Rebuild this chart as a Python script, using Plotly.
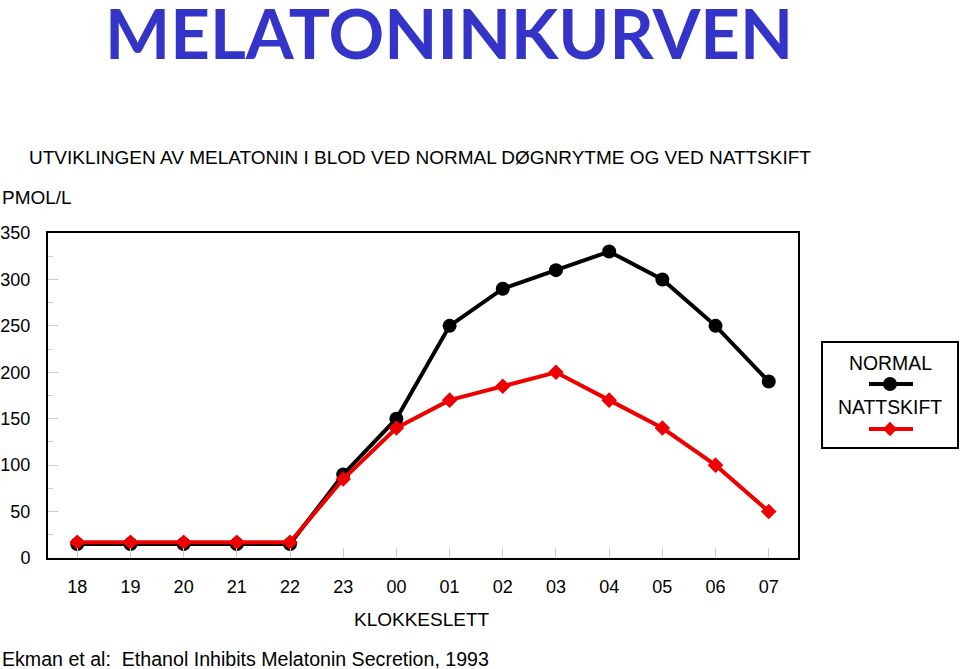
import plotly.graph_objects as go

hours = ["18", "19", "20", "21", "22", "23", "00", "01", "02", "03", "04", "05", "06", "07"]
normal = [15, 15, 15, 15, 15, 90, 150, 250, 290, 310, 330, 300, 250, 190]
nattskift = [17, 17, 17, 17, 17, 85, 140, 170, 185, 200, 170, 140, 100, 50]
y_ticks = [0, 50, 100, 150, 200, 250, 300, 350]

W, H = 960, 669
L, T = 48, 233  # plot area top-left in px
PW, PH = 750, 325  # plot area size in px
paperW = W - L

def px(x):
    return (x - L) / paperW

def py(y):
    return (T + PH - y) / PH

FONT = "Liberation Sans, Arial, sans-serif"

fig = go.Figure()
fig.add_trace(go.Scatter(
    x=hours, y=normal, mode="lines+markers", name="NORMAL",
    line=dict(color="black", width=4),
    marker=dict(symbol="circle", size=14, color="black"),
    showlegend=False,
))
fig.add_trace(go.Scatter(
    x=hours, y=nattskift, mode="lines+markers", name="NATTSKIFT",
    line=dict(color="#ee0000", width=4),
    marker=dict(symbol="diamond", size=12, color="#ee0000"),
    showlegend=False,
))

# custom legend (text above symbol) on an overlay axis
lx0, lx1, ly0, ly1 = 823, 957, 343, 447
lw, lh = lx1 - lx0, ly1 - ly0
def lxc(x):
    return (x - lx0) / lw
def lyc(y):
    return (ly1 - y) / lh

for yy, col, sym, sz in [(384, "black", "circle", 14), (429, "#ee0000", "diamond", 11)]:
    fig.add_trace(go.Scatter(
        x=[lxc(869), lxc(913)], y=[lyc(yy)] * 2, xaxis="x2", yaxis="y2",
        mode="lines", line=dict(color=col, width=4),
        showlegend=False, hoverinfo="skip",
    ))
    fig.add_trace(go.Scatter(
        x=[lxc(890)], y=[lyc(yy)], xaxis="x2", yaxis="y2",
        mode="markers", marker=dict(symbol=sym, size=sz, color=col, line=dict(width=0)),
        showlegend=False, hoverinfo="skip",
    ))

annotations = [
    dict(text="<b>MELATONINKURVEN</b>", x=px(449), y=py(32), xref="paper", yref="paper",
         showarrow=False, xanchor="center", yanchor="middle",
         font=dict(family="Comic Sans MS, Lato, sans-serif", size=69, color="#3434c8")),
    dict(text="UTVIKLINGEN AV MELATONIN I BLOD VED NORMAL DØGNRYTME OG VED NATTSKIFT",
         x=px(27), y=py(157), xref="paper", yref="paper", showarrow=False,
         xanchor="left", yanchor="middle", font=dict(family=FONT, size=19, color="black")),
    dict(text="PMOL/L", x=px(0), y=py(198), xref="paper", yref="paper", showarrow=False,
         xanchor="left", yanchor="middle", font=dict(family=FONT, size=19, color="black")),
    dict(text="KLOKKESLETT", x=px(422), y=py(619), xref="paper", yref="paper", showarrow=False,
         xanchor="center", yanchor="middle", font=dict(family=FONT, size=19, color="black")),
    dict(text="Ekman et al:  Ethanol Inhibits Melatonin Secretion, 1993", x=px(0), y=py(659),
         xref="paper", yref="paper", showarrow=False, xanchor="left", yanchor="middle",
         font=dict(family=FONT, size=19.6, color="black")),
    dict(text="NORMAL", x=lxc(890), y=lyc(363), xref="x2", yref="y2", showarrow=False,
         xanchor="center", yanchor="middle", font=dict(family=FONT, size=19.4, color="black")),
    dict(text="NATTSKIFT", x=lxc(890), y=lyc(407), xref="x2", yref="y2", showarrow=False,
         xanchor="center", yanchor="middle", font=dict(family=FONT, size=19.4, color="black")),
]

fig.update_layout(
    width=W, height=H,
    margin=dict(l=L, r=0, t=T, b=H - T - PH, autoexpand=False),
    paper_bgcolor="white", plot_bgcolor="white",
    font=dict(family=FONT, size=18, color="black"),
    annotations=annotations,
    xaxis=dict(
        type="category", domain=[0, PW / paperW], range=[-0.55, 13.55], automargin=False,
        showgrid=False, zeroline=False, showline=True, linecolor="black", linewidth=2,
        mirror=True, ticks="inside", ticklen=10, tickcolor="#cccccc", tickwidth=1,
        ticklabelstandoff=11, tickfont=dict(family=FONT, size=18, color="black"),
    ),
    yaxis=dict(
        range=[0, 350], tickvals=y_ticks, showgrid=False, zeroline=False, automargin=False,
        showline=True, linecolor="black", linewidth=2, mirror=True,
        ticks="inside", ticklen=10, tickcolor="#cccccc", tickwidth=1,
        ticklabelstandoff=12, tickfont=dict(family=FONT, size=18, color="black"),
        minor=dict(dtick=25, tick0=0, ticks="inside", ticklen=5, tickcolor="#cccccc", tickwidth=1),
    ),
    xaxis2=dict(
        domain=[px(lx0), px(lx1)], range=[0, 1], anchor="y2", showgrid=False, zeroline=False,
        showticklabels=False, ticks="", showline=True, linecolor="black", linewidth=2, mirror=True,
        fixedrange=True, automargin=False,
    ),
    yaxis2=dict(
        domain=[py(ly1), py(ly0)], range=[0, 1], anchor="x2", showgrid=False, zeroline=False,
        showticklabels=False, ticks="", showline=True, linecolor="black", linewidth=2, mirror=True,
        fixedrange=True, automargin=False,
    ),
)

fig.write_html(
    "out.html",
    config={"displayModeBar": False},
    post_script="document.body.style.margin='0px';document.body.style.overflow='hidden';",
)
